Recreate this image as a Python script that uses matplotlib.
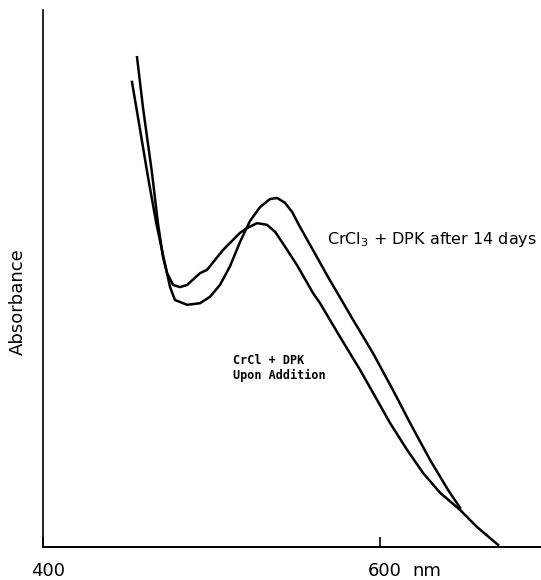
import numpy as np
import matplotlib.pyplot as plt
from matplotlib.transforms import ScaledTranslation

# wavelength (nm) and absorbance (arbitrary units)
nm_14days = [455.8, 459.3, 464.7, 468.2, 471.2, 473.6, 475.4, 478.3, 485.5, 493.2,
             499.1, 505.0, 511.0, 516.9, 522.8, 528.8, 534.7, 538.9, 543.6, 547.8,
             552.5, 560.2, 569.1, 584.0, 595.8, 607.7, 617.8, 629.7, 640.4, 647.5]
abs_14days = [0.912, 0.819, 0.696, 0.603, 0.540, 0.510, 0.484, 0.460, 0.451, 0.454,
              0.466, 0.488, 0.523, 0.568, 0.607, 0.633, 0.648, 0.650, 0.641, 0.624,
              0.596, 0.553, 0.503, 0.423, 0.361, 0.292, 0.231, 0.162, 0.106, 0.073]

nm_addition = [452.8, 457.6, 462.3, 467.1, 471.2, 473.6, 477.2, 481.3, 485.5, 493.2,
               497.3, 506.8, 516.9, 521.1, 527.0, 532.9, 537.7, 541.8, 550.7, 560.2,
               564.4, 576.3, 588.1, 598.2, 605.9, 616.0, 625.5, 635.6, 647.5, 657.6,
               670.0]
abs_addition = [0.866, 0.777, 0.689, 0.605, 0.544, 0.510, 0.488, 0.484, 0.488, 0.510,
                0.516, 0.553, 0.585, 0.594, 0.603, 0.600, 0.587, 0.568, 0.525, 0.473,
                0.454, 0.391, 0.330, 0.274, 0.231, 0.181, 0.138, 0.101, 0.069, 0.037,
                0.004]

xticks = [400, 600]

fig = plt.figure(figsize=(5.41, 5.80), dpi=100)
ax = fig.add_axes([43/541, 33/580, (541-43)/541, (547-10)/580])

ax.plot(nm_14days, abs_14days, color='black', linewidth=1.8, solid_joinstyle='round')
ax.plot(nm_addition, abs_addition, color='black', linewidth=1.8, solid_joinstyle='round')

ax.set_xlim(400, 695.5)
ax.set_ylim(0, 1.0)

ax.spines['top'].set_visible(False)
ax.spines['right'].set_visible(False)
ax.spines['left'].set_linewidth(1.2)
ax.spines['bottom'].set_linewidth(1.4)

ax.set_yticks([])
ax.set_xticks(xticks)
ax.set_xticklabels([str(x) for x in xticks])
ax.tick_params(axis='x', direction='in', length=7, width=1.2, labelsize=13, pad=10.5)
# labels sit a little right of their ticks in the original
shift = ScaledTranslation(5/100, 0, fig.dpi_scale_trans)
for lab in ax.get_xticklabels():
    lab.set_transform(lab.get_transform() + shift)

ax.annotate('nm', xy=(628, 0), xycoords=('data', 'axes fraction'),
            xytext=(0, -21), textcoords='offset points',
            ha='center', va='baseline', fontsize=13, annotation_clip=False)
fig.text(18/541, 1 - 302/580, 'Absorbance', fontsize=13, rotation=90,
         ha='center', va='center')

ax.text(568.5, 0.572, r'CrCl$_3$ + DPK after 14 days', fontsize=11.5, ha='left', va='center')
ax.text(512.8, 0.333, 'CrCl + DPK\nUpon Addition', fontsize=8.5, family='DejaVu Sans Mono',
        fontweight='bold', ha='left', va='center', linespacing=1.2)

fig.savefig('out.png', dpi=100)
